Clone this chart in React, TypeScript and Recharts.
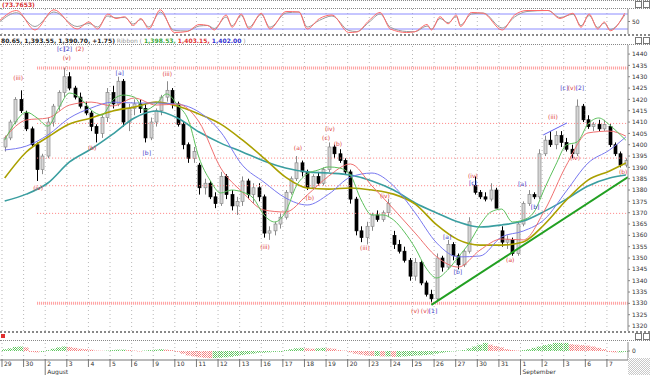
import {
  ComposedChart,
  Bar,
  Line,
  Scatter,
  XAxis,
  YAxis,
  ReferenceLine,
  Cell
} from "recharts"

// trading days shown on the time axis
const dayLabels = ["29", "30", "2", "3", "4", "5", "6", "9", "10", "11", "12", "13", "16", "17", "18", "19", "20", "23", "24", "25", "26", "27", "30", "31", "1", "2", "3", "6", "7"]
const monthStarts = [{ day: 2, name: "August" }, { day: 24, name: "September" }]

// candles, 4 bars per day
const opens = [1399, 1403, 1410, 1420, 1414, 1407, 1400, 1389, 1395, 1410, 1417, 1423, 1430, 1425, 1421, 1417, 1414, 1408, 1405, 1412, 1423, 1418, 1428, 1410, 1416, 1418, 1416, 1403, 1410, 1415, 1421, 1424, 1418, 1409, 1400, 1394, 1391, 1381, 1383, 1377, 1374, 1386, 1378, 1373, 1375, 1384, 1378, 1381, 1377, 1361, 1362, 1365, 1368, 1379, 1385, 1392, 1388, 1381, 1386, 1383, 1389, 1399, 1396, 1393, 1388, 1376, 1362, 1359, 1364, 1369, 1367, 1370, 1360, 1356, 1353, 1349, 1342, 1348, 1339, 1334, 1332, 1350, 1346, 1356, 1351, 1347, 1353, 1382, 1379, 1377, 1376, 1380, 1362, 1357, 1358, 1352, 1365, 1374, 1378, 1377, 1396, 1402, 1400, 1404, 1401, 1398, 1396, 1417, 1411, 1408, 1409, 1407, 1408, 1400, 1396, 1391]
const highs = [1404, 1411, 1421, 1424, 1415, 1408, 1401, 1396, 1412, 1418, 1424, 1434, 1432, 1426, 1423, 1419, 1415, 1409, 1413, 1425, 1426, 1430, 1429, 1418, 1420, 1420, 1418, 1412, 1416, 1422, 1428, 1425, 1419, 1410, 1401, 1399, 1392, 1385, 1384, 1379, 1388, 1387, 1380, 1377, 1386, 1385, 1383, 1383, 1378, 1364, 1366, 1370, 1380, 1386, 1395, 1393, 1389, 1387, 1388, 1390, 1401, 1400, 1398, 1394, 1389, 1377, 1364, 1366, 1370, 1371, 1371, 1376, 1362, 1358, 1355, 1350, 1350, 1349, 1340, 1336, 1352, 1351, 1358, 1357, 1352, 1354, 1368, 1386, 1380, 1379, 1383, 1381, 1364, 1360, 1359, 1366, 1375, 1380, 1379, 1398, 1404, 1406, 1406, 1406, 1403, 1400, 1420, 1418, 1413, 1410, 1411, 1411, 1409, 1401, 1397, 1394]
const lows = [1397, 1402, 1409, 1414, 1406, 1399, 1384, 1387, 1394, 1408, 1415, 1421, 1424, 1420, 1416, 1413, 1406, 1401, 1403, 1410, 1416, 1417, 1408, 1406, 1413, 1414, 1401, 1402, 1408, 1413, 1419, 1416, 1408, 1398, 1392, 1392, 1378, 1378, 1376, 1372, 1373, 1376, 1371, 1369, 1373, 1376, 1374, 1375, 1359, 1358, 1360, 1363, 1367, 1378, 1384, 1386, 1380, 1380, 1382, 1382, 1388, 1394, 1392, 1387, 1374, 1360, 1357, 1356, 1362, 1366, 1366, 1368, 1354, 1352, 1348, 1340, 1340, 1338, 1333, 1330, 1331, 1344, 1345, 1349, 1345, 1346, 1352, 1378, 1376, 1375, 1375, 1372, 1355, 1354, 1351, 1351, 1364, 1373, 1376, 1376, 1395, 1399, 1398, 1399, 1397, 1394, 1395, 1410, 1407, 1406, 1406, 1406, 1399, 1395, 1390, 1390]
const closes = [1403, 1410, 1420, 1415, 1407, 1400, 1389, 1395, 1410, 1417, 1423, 1430, 1425, 1421, 1417, 1414, 1408, 1405, 1412, 1423, 1418, 1428, 1410, 1416, 1418, 1416, 1403, 1410, 1415, 1421, 1424, 1418, 1409, 1400, 1394, 1397, 1381, 1383, 1377, 1374, 1386, 1378, 1373, 1375, 1384, 1378, 1381, 1377, 1361, 1362, 1365, 1368, 1379, 1385, 1392, 1388, 1381, 1386, 1383, 1389, 1399, 1396, 1393, 1388, 1376, 1362, 1359, 1364, 1369, 1367, 1370, 1374, 1356, 1353, 1349, 1342, 1348, 1339, 1334, 1332, 1350, 1346, 1356, 1351, 1347, 1353, 1366, 1379, 1377, 1376, 1380, 1372, 1357, 1358, 1352, 1365, 1374, 1378, 1377, 1396, 1402, 1400, 1404, 1401, 1398, 1396, 1417, 1411, 1408, 1409, 1407, 1409, 1400, 1396, 1391, 1393]

// moving averages read every 4 bars
const maIdx = [0, 4, 8, 12, 16, 20, 24, 28, 32, 36, 40, 44, 48, 52, 56, 60, 64, 68, 72, 76, 80, 84, 88, 92, 96, 100, 104, 108, 112, 115]
const tealMa = [1375.2, 1378.2, 1383.1, 1392.4, 1398.1, 1404.7, 1411.8, 1414.9, 1411.8, 1405.6, 1400.7, 1396.8, 1392.8, 1389.7, 1388, 1387.5, 1386.6, 1384, 1380, 1374.3, 1369.9, 1365.9, 1363.7, 1364.6, 1366.3, 1370.7, 1376, 1381.8, 1385.3, 1386.6]
const oliveMa = [1385.3, 1396.8, 1403.4, 1409.1, 1411.8, 1414.9, 1416.6, 1418.8, 1417.1, 1413.5, 1409.1, 1402.1, 1394.1, 1385.7, 1380.9, 1380.4, 1380.9, 1380, 1378.2, 1373.8, 1364.6, 1358, 1355.7, 1355.7, 1357.1, 1365, 1375.6, 1384.4, 1388.4, 1391.9]
const blueMa = [1397.7, 1399.4, 1404.3, 1411.8, 1416.2, 1418.8, 1418.4, 1418.4, 1417.9, 1414.4, 1405.6, 1391, 1383.5, 1376.5, 1373.4, 1378.2, 1385.7, 1387.5, 1381.8, 1369.9, 1356.6, 1350.5, 1350.9, 1359.3, 1361.9, 1367.2, 1379.6, 1391.9, 1397.7, 1403.4]
const redMa = [1403, 1410.9, 1411.8, 1417.5, 1418.8, 1417.1, 1420.6, 1417.5, 1417.9, 1410, 1389.7, 1379.1, 1371.2, 1370.3, 1377.8, 1386.2, 1391.5, 1381.8, 1371.6, 1361, 1350.5, 1346, 1353.5, 1358.4, 1358, 1371.2, 1391, 1405.2, 1406, 1403.8]

// fast average read every 2 bars
const greenIdx = [0, 2, 4, 6, 8, 10, 12, 14, 16, 18, 20, 22, 24, 26, 28, 30, 32, 34, 36, 38, 40, 42, 44, 46, 48, 50, 52, 54, 56, 58, 60, 62, 64, 66, 68, 70, 72, 74, 76, 78, 80, 82, 84, 86, 88, 90, 92, 94, 96, 98, 100, 102, 104, 106, 108, 110, 112, 114, 115]
const greenMa = [1402, 1410, 1414.4, 1411.8, 1408.2, 1416.2, 1422.8, 1420.6, 1415.3, 1413.1, 1419.7, 1421.9, 1421, 1415.3, 1417.9, 1422.4, 1417.5, 1410.9, 1394.1, 1384.4, 1378.7, 1380, 1379.1, 1376.5, 1369, 1365.9, 1370.3, 1381.8, 1387.1, 1388.8, 1390.2, 1389.7, 1386.6, 1375.6, 1369, 1369, 1366.8, 1361.5, 1354.4, 1345.6, 1341.2, 1344.7, 1350.5, 1356.6, 1364.6, 1370.3, 1371.6, 1365.9, 1366.8, 1370.3, 1380.9, 1391, 1399.9, 1401.2, 1409.1, 1411.8, 1408.7, 1404.3, 1402]

// trend lines
const trendIdx = [79, 115.4]
const trendVal = [1329.3, 1385.7]
const channelIdx = [99.7, 104.1]
const channelVal = [1404.3, 1409.6]

// horizontal levels
const swingHigh = 1433.8
const swingLow = 1330
const fibLevels = [1409.4, 1394.1, 1381.9, 1369.7]
const levelStart = 6

// wave labels
const waveText = ["(iii)", "[c]", "[2]", "(2)", "(v)", "(iv)", "(b)", "[a]", "[b]", "(iii)", "(iii)", "(a)", "(b)", "(iv)", "(c)", "(b)", "(iii)", "(iv)", "(v)", "(v)", "[1]", "[a]", "[b]", "(iv)", "[c]", "(a)", "[a]", "[b]", "(iii)", "(iv)", "[c]", "(v)", "[2]", "(b)"]
const waveIdx = [2.5, 10.4, 11.7, 13.9, 11.5, 6.2, 16.2, 21.3, 26.3, 30.1, 48.2, 54.3, 56.5, 60.2, 59.5, 61.7, 66.7, 70.4, 76, 77.8, 79.3, 81.9, 83.9, 86.7, 86.7, 93.6, 95.8, 98.2, 101.5, 105.6, 103.6, 105, 106.5, 114.5]
const wavePrice = [1429.4, 1442.2, 1442.2, 1442.2, 1438.2, 1380.9, 1398.5, 1431.6, 1396.3, 1431.2, 1354.9, 1398.5, 1376.5, 1406.9, 1403, 1400.3, 1354.4, 1377.4, 1326.6, 1326.6, 1326.6, 1359.3, 1343.8, 1386.2, 1383.1, 1349.1, 1382.7, 1372.5, 1412.2, 1394.1, 1425, 1425, 1425, 1388]

// oscillator turning points
const oscIdx = [-0.87, 2.2, 5.6, 9.1, 13.4, 15.6, 17.2, 19.1, 20.6, 22.2, 23.8, 25.2, 26.7, 28.8, 31.4, 33.8, 36, 37.6, 38.8, 41, 42.1, 43.8, 45.2, 47.5, 49.1, 52.1, 54.5, 56, 58.3, 60.6, 63.7, 65.2, 67.5, 69.5, 71.4, 74.4, 75.9, 78.2, 79, 80.6, 82.1, 83.6, 84.4, 86.4, 88.6, 92.1, 94.4, 96.7, 100.6, 102.8, 105.2, 106.7, 108.2, 109.8, 111, 112.1, 114.8]
const oscK = [55, 94, 16, 97, 20, 48, 20, 80, 62, 69, 34, 62, 20, 97, 6, 10, 38, 34, 16, 76, 27, 80, 20, 83, 20, 90, 88, 20, 62, 76, 6, 8, 55, 86, 20, 6, 9, 38, 16, 69, 41, 76, 30, 86, 83, 16, 76, 94, 94, 62, 83, 27, 80, 20, 48, 13, 83]
const oscD = [50, 85, 30, 88, 30, 42, 28, 72, 65, 66, 40, 58, 28, 88, 14, 12, 32, 34, 22, 68, 33, 74, 27, 78, 27, 84, 88, 28, 55, 72, 14, 10, 48, 80, 27, 10, 9, 32, 20, 62, 45, 70, 36, 80, 84, 24, 68, 90, 94, 66, 79, 33, 74, 26, 44, 18, 76]

// lower histogram, one value per bar
const histVals = [2, 3, 4.5, 5, 4, -1, -1.5, -1, 1, 2.5, 4, 5, 4.5, 3.5, 2.5, 2, 1.5, 0.5, 0.3, 0.5, 1, 1.5, 1.5, 1, 0.5, -0.5, 0.5, 1, 1.5, 2, 1.5, 1, -1, -3, -5, -6, -7, -7.5, -8, -8, -7.5, -7, -6.5, -5.5, -4.5, -3.5, -3, -2, -2, -1.5, -1, -1, 1, 2, 3, 3.5, 3, 2.5, 3, 3.5, 3, 2.5, 1, 0.5, -1.5, -3, -4, -5, -5.5, -5.5, -6, -6, -6.5, -6.5, -6, -5.5, -5, -5, -4.5, -4, -3, -2, -1, -0.5, 0.5, 1, 3, 5, 7, 9, 7, 5.5, 4, 2, 1, 0.5, 1, 2, 3.5, 5, 6.5, 7.5, 9, 9, 9, 7.5, 7, 6.5, 6, 5, 3.5, 2, -1, -1.5, -1.5, -1]

const priceTicks = [1320, 1325, 1330, 1335, 1340, 1345, 1350, 1355, 1360, 1365, 1370, 1375, 1380, 1385, 1390, 1395, 1400, 1405, 1410, 1415, 1420, 1425, 1430, 1435, 1440]

const X_DOMAIN = [-0.87, 115.4]
const FONT = "DejaVu Sans"
const dayIdx = dayLabels.map((_, d) => d * 4 - 0.5)

const candleRows = opens.map((o, i) => ({ i, o, h: highs[i], l: lows[i], c: closes[i], range: [lows[i], highs[i]] }))
const maRows = maIdx.map((i, k) => ({ i, teal: tealMa[k], olive: oliveMa[k], blue: blueMa[k], red: redMa[k] }))
const greenRows = greenIdx.map((i, k) => ({ i, v: greenMa[k] }))
const trendRows = trendIdx.map((i, k) => ({ i, v: trendVal[k] }))
const channelRows = channelIdx.map((i, k) => ({ i, v: channelVal[k] }))
const waveRows = waveText.map((t, k) => ({ i: waveIdx[k], p: wavePrice[k], t }))
const oscRows = oscIdx.map((i, k) => ({ i, k: oscK[k], d: oscD[k] }))
const histRows = histVals.map((v, i) => ({ i, v }))

function Candle(props: any) {
  const { x, width, payload } = props
  let { y, height } = props
  if (height < 0) { y = y + height; height = -height }
  const { o, h, l, c } = payload
  const k = height / ((h - l) || 1)
  const cx = Math.round(x + width / 2) + 0.5
  const yo = y + (h - o) * k
  const yc = y + (h - c) * k
  const up = c >= o
  const top = Math.min(yo, yc)
  const bh = Math.max(1, Math.abs(yc - yo))
  return (
    <g>
      <line x1={cx} x2={cx} y1={y} y2={y + height} stroke={up ? "#8a8a8a" : "#000"} strokeWidth={1} />
      <rect x={cx - 1.5} y={top} width={3} height={bh} fill={up ? "#d6d6d6" : "#000"} stroke={up ? "#8a8a8a" : "#000"} strokeWidth={0.7} />
    </g>
  )
}

function WaveLabel(props: any) {
  const { cx, cy, payload } = props
  const major = payload.t.startsWith("[")
  return (
    <text x={cx} y={cy + 2} textAnchor="middle" fontSize={6} fontFamily={FONT} fill={major ? "#3a3ac8" : "#e04040"}>
      {payload.t}
    </text>
  )
}

function DayTick(props: any) {
  const { x, y, index } = props
  const month = monthStarts.find(m => m.day === index)
  return (
    <g>
      <line x1={x} x2={x} y1={y - 1} y2={month ? y + 15 : y + 7} stroke="#777" />
      <text x={x + 2} y={y + 6} fontSize={6} fontFamily={FONT} fill="#333">{dayLabels[index]}</text>
      {month && <text x={x + 2} y={y + 14} fontSize={6} fontFamily={FONT} fill="#333">{month.name}</text>}
    </g>
  )
}

const dayLines = (top: string) => dayIdx.map(v => (
  <ReferenceLine key={top + v} x={v} stroke="#b8b8b8" strokeDasharray="1 3" />
))

const sep = (top: number, thick = false) => (
  <div style={{ position: "absolute", left: 0, top, width: 650, borderTop: `${thick ? 2 : 1}px dotted #888` }} />
)

const icons = (top: number) => (
  <div style={{ position: "absolute", left: 635, top, display: "flex", gap: 1 }}>
    <div style={{ width: 5, height: 5, border: "1px solid #777" }} />
    <div style={{ width: 5, height: 5, border: "1px solid #777" }} />
  </div>
)

export default function App() {
  return (
    <div style={{ position: "absolute", left: 0, top: 0, width: 650, height: 375, background: "#fff", overflow: "hidden", fontFamily: FONT }}>

      {sep(0)}
      <div style={{ position: "absolute", left: 2, top: 1, fontSize: 6, fontWeight: "bold", color: "#d83030" }}>(73.7653)</div>
      {icons(1)}
      {sep(8)}

      <div style={{ position: "absolute", left: 0, top: 9 }}>
        <ComposedChart width={650} height={25} margin={{ top: 0, right: 0, bottom: 0, left: 0 }}>
          <XAxis type="number" dataKey="i" domain={X_DOMAIN} hide allowDataOverflow />
          <YAxis orientation="right" domain={[0, 100]} ticks={[50]} width={22} allowDataOverflow
            tick={{ fontSize: 6, fill: "#333", fontFamily: FONT }} tickSize={2} axisLine={{ stroke: "#888" }} tickLine={{ stroke: "#888" }} />
          {dayLines("o")}
          <ReferenceLine y={80} stroke="#8c8cff" />
          <ReferenceLine y={20} stroke="#8c8cff" />
          <Line data={oscRows} dataKey="d" type="monotone" stroke="#9a9a9a" strokeWidth={1} dot={false} isAnimationActive={false} />
          <Line data={oscRows} dataKey="k" type="monotone" stroke="#ff6a6a" strokeWidth={1} dot={false} isAnimationActive={false} />
        </ComposedChart>
      </div>

      {sep(34, true)}
      <div style={{ position: "absolute", left: 1, top: 37, fontSize: 6, fontWeight: "bold", whiteSpace: "nowrap" }}>
        <span style={{ color: "#222" }}>80.65, 1,393.55, 1,390.70, +1.75)</span>
        <span style={{ color: "#999", fontWeight: "normal" }}> Ribbon ( </span>
        <span style={{ color: "#3aa83a" }}>1,398.53, </span>
        <span style={{ color: "#e03030" }}>1,403.15, </span>
        <span style={{ color: "#3030d0" }}>1,402.00</span>
        <span style={{ color: "#999", fontWeight: "normal" }}> )</span>
      </div>
      {icons(37)}
      {sep(44)}

      <div style={{ position: "absolute", left: 0, top: 45 }}>
        <ComposedChart width={650} height={286} data={candleRows} margin={{ top: 0, right: 0, bottom: 0, left: 0 }}>
          <XAxis type="number" dataKey="i" domain={X_DOMAIN} hide allowDataOverflow ticks={dayIdx} />
          <YAxis orientation="right" domain={[1317.8, 1444]} ticks={priceTicks} width={22} allowDataOverflow interval={0}
            tick={{ fontSize: 6, fill: "#333", fontFamily: FONT }} tickSize={2} axisLine={{ stroke: "#888" }} tickLine={{ stroke: "#888" }} />
          {dayLines("m")}
          <ReferenceLine segment={[{ x: levelStart, y: swingHigh }, { x: X_DOMAIN[1], y: swingHigh }]} stroke="#ff9a9a" strokeWidth={3} strokeDasharray="1 1" />
          <ReferenceLine segment={[{ x: levelStart, y: swingLow }, { x: X_DOMAIN[1], y: swingLow }]} stroke="#ff9a9a" strokeWidth={3} strokeDasharray="1 1" />
          {fibLevels.map(v => (
            <ReferenceLine key={v} segment={[{ x: levelStart, y: v }, { x: X_DOMAIN[1], y: v }]} stroke="#ff8080" strokeDasharray="1 2" />
          ))}
          <Bar dataKey="range" barSize={5} shape={Candle} isAnimationActive={false} />
          <Line data={maRows} dataKey="teal" type="monotone" stroke="#3a9ea0" strokeWidth={1.6} dot={false} isAnimationActive={false} />
          <Line data={maRows} dataKey="olive" type="monotone" stroke="#aaa000" strokeWidth={1.6} dot={false} isAnimationActive={false} />
          <Line data={maRows} dataKey="blue" type="monotone" stroke="#7878f0" strokeWidth={1} dot={false} isAnimationActive={false} />
          <Line data={maRows} dataKey="red" type="monotone" stroke="#f07070" strokeWidth={1} dot={false} isAnimationActive={false} />
          <Line data={greenRows} dataKey="v" type="monotone" stroke="#5cc05c" strokeWidth={1} dot={false} isAnimationActive={false} />
          <Line data={trendRows} dataKey="v" stroke="#22a022" strokeWidth={2} dot={false} isAnimationActive={false} />
          <Line data={channelRows} dataKey="v" stroke="#6060f0" strokeWidth={1} dot={false} isAnimationActive={false} />
          <Scatter data={waveRows} dataKey="p" shape={WaveLabel} isAnimationActive={false} />
        </ComposedChart>
      </div>

      {sep(331, true)}
      <div style={{ position: "absolute", left: 1, top: 334, width: 4, height: 4, background: "#e03030" }} />
      {icons(333)}
      {sep(340)}

      <div style={{ position: "absolute", left: 0, top: 342 }}>
        <ComposedChart width={650} height={33} data={histRows} margin={{ top: 0, right: 0, bottom: 0, left: 0 }}>
          <defs>
            <pattern id="hg" width="2" height="2" patternUnits="userSpaceOnUse">
              <rect x="0" y="0" width="1" height="1" fill="#5cc45c" />
              <rect x="1" y="1" width="1" height="1" fill="#5cc45c" />
            </pattern>
            <pattern id="hr" width="2" height="2" patternUnits="userSpaceOnUse">
              <rect x="0" y="0" width="1" height="1" fill="#f47c7c" />
              <rect x="1" y="1" width="1" height="1" fill="#f47c7c" />
            </pattern>
          </defs>
          <XAxis type="number" dataKey="i" domain={X_DOMAIN} allowDataOverflow ticks={dayIdx} interval={0} height={15}
            tick={<DayTick />} tickLine={false} tickSize={0} tickMargin={0} axisLine={{ stroke: "#777" }} />
          <YAxis orientation="right" domain={[-10, 10]} ticks={[0]} width={22} allowDataOverflow
            tick={{ fontSize: 6, fill: "#333", fontFamily: FONT }} tickSize={2} axisLine={{ stroke: "#888" }} tickLine={{ stroke: "#888" }} />
          {dayLines("h")}
          <Bar dataKey="v" barSize={5} isAnimationActive={false}>
            {histRows.map((r, i) => (
              <Cell key={i} fill={i === 0 || r.v >= histVals[i - 1] ? "url(#hg)" : "url(#hr)"} />
            ))}
          </Bar>
        </ComposedChart>
      </div>

      <div style={{
        position: "absolute", left: 628, top: 358, width: 22, height: 17,
        backgroundImage: "repeating-conic-gradient(#c8c8c8 0% 25%, #fff 0% 50%)", backgroundSize: "2px 2px"
      }} />
    </div>
  )
}
